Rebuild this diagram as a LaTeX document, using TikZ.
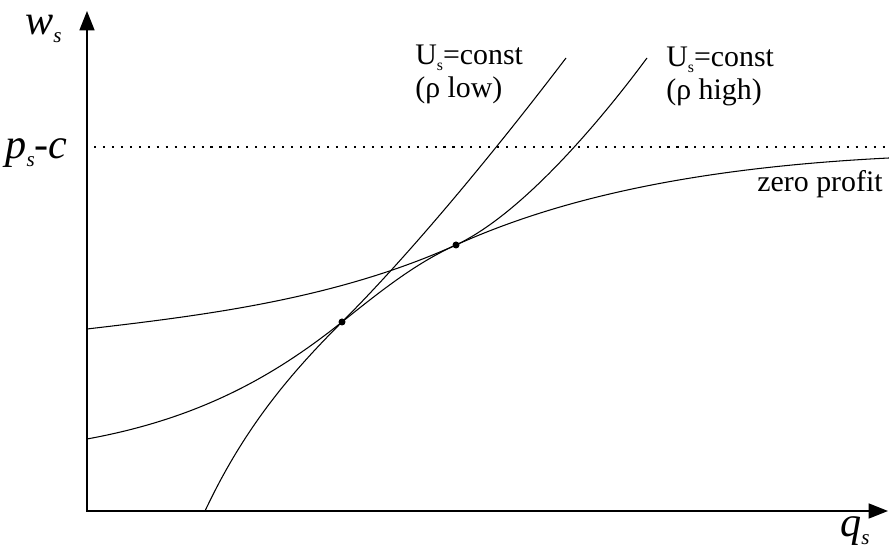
\documentclass[tikz,border=0pt]{standalone}
\usepackage{fontspec}
\setmainfont{Liberation Serif}
\usetikzlibrary{arrows.meta}
\newcommand{\axsub}[1]{\raisebox{-4pt}{\fontsize{12}{12}\selectfont\itshape #1}}
\newcommand{\txsub}[1]{\raisebox{-3pt}{\fontsize{9}{9}\selectfont #1}}
\tikzset{
  axis/.style={line width=0.9pt, {Triangle[length=11pt,width=8.5pt]}-{Triangle[length=11pt,width=8.5pt]}},
  curve/.style={line width=0.6pt},
  axlabel/.style={font=\fontsize{24}{27}\selectfont\itshape, inner sep=0pt},
  curvelabel/.style={font=\fontsize{17}{18.7}\selectfont, inner sep=0pt, align=left}
}
\begin{document}
\begin{tikzpicture}[x=0.02cm, y=0.02cm]
  \useasboundingbox (0,0) rectangle (889,546);
  \coordinate (O) at (87,35);
  \coordinate (ytip) at (87,535);
  \coordinate (xtip) at (888,35);
  \coordinate (lowtan) at (342,224);
  \coordinate (hightan) at (456,301);
  % axes
  \draw[axis] (ytip) -- (O) -- (xtip);
  \node[axlabel, anchor=base east] (wlabel) at (62,511) {w\axsub{s}};
  \node[axlabel, anchor=base east] (qlabel) at (870,9) {q\axsub{s}};
  \node[axlabel, anchor=base east] (plabel) at (68,387) {p\axsub{s}-c};
  % price line
  \draw[line width=1.2pt, dash pattern=on 1.2pt off 3.9pt] (94,399) -- (889,399);
  % zero profit
  \draw[curve] (87,217) .. controls (207,231) and (336,247) .. (hightan)
    .. controls (556,346) and (689,378) .. (889,388);
  % indifference curves
  \draw[curve] (87,107) .. controls (197,127) and (272,168) .. (lowtan)
    .. controls (382,256) and (416,283) .. (hightan)
    .. controls (526,334) and (607,434) .. (647,488);
  \draw[curve] (205,35) .. controls (245,120) and (292,174) .. (lowtan)
    .. controls (412,294) and (496,396) .. (566,488);
  \fill (lowtan) circle[radius=3.5];
  \fill (hightan) circle[radius=3.5];
  % labels
  \node[curvelabel, anchor=north west] (lowlabel) at (415,501) {U\txsub{s}=const\\(ρ low)};
  \node[curvelabel, anchor=north west] (highlabel) at (666,499) {U\txsub{s}=const\\(ρ high)};
  \node[curvelabel, anchor=base east] (zplabel) at (883,354) {zero profit};
\end{tikzpicture}
\end{document}
